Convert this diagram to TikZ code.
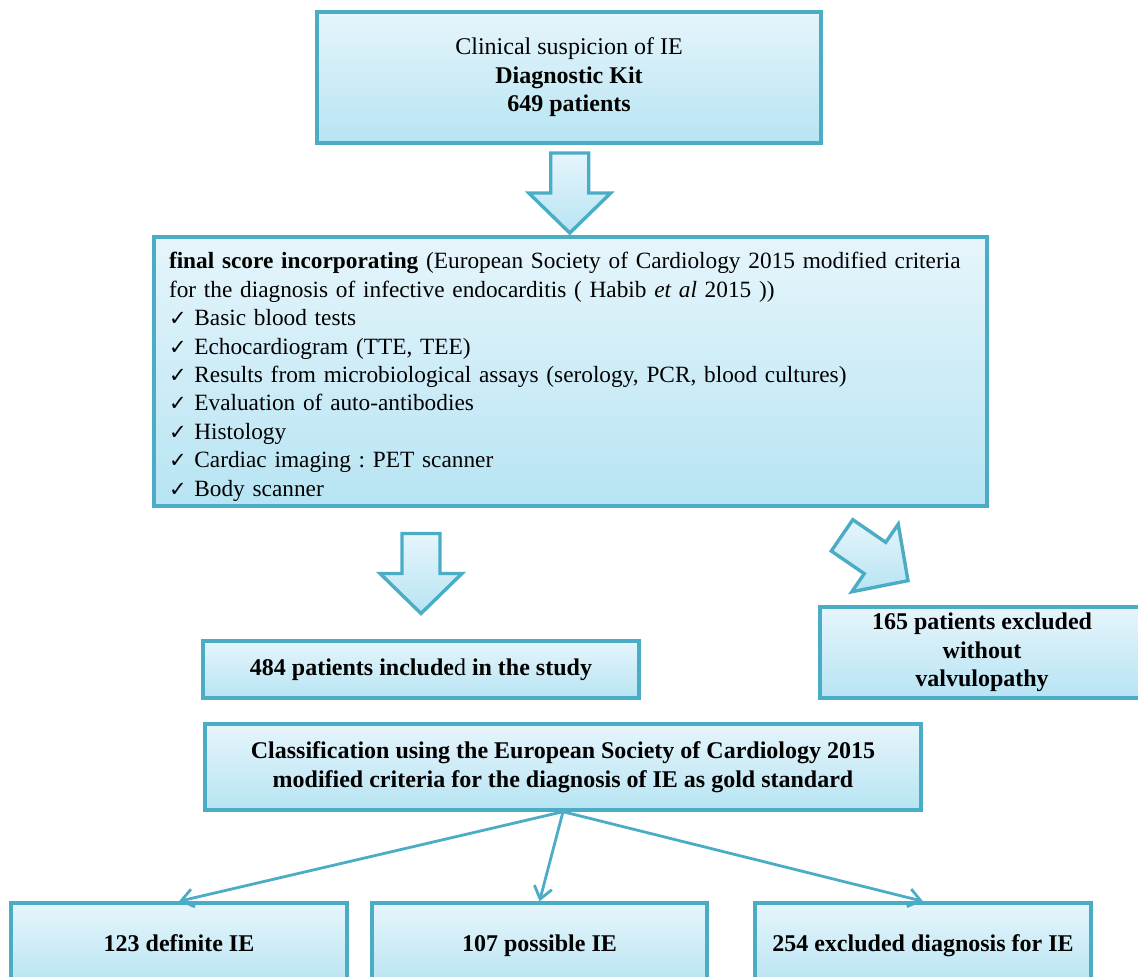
\documentclass[tikz,border=0pt]{standalone}
\usepackage{fontspec}
\setmainfont{Liberation Serif}
\newfontfamily\symfont{DejaVu Sans}
\usetikzlibrary{arrows.meta,positioning,calc}
\definecolor{boxline}{RGB}{75,172,198}
\definecolor{boxtop}{RGB}{230,245,251}
\definecolor{boxbot}{RGB}{183,228,243}
\newcommand{\ckmark}{{\symfont\fontsize{10.5}{12}\selectfont ✓}}
\tikzset{block/.style={draw=boxline,line width=1.7pt,top color=boxtop,bottom color=boxbot,align=center,inner sep=0pt,font=\fontsize{12}{14.2}\selectfont},boldblock/.style={block,font=\fontsize{12}{14.2}\selectfont\bfseries},outcome/.style={boldblock,minimum width=168pt,minimum height=42pt,text height=8.5pt,text depth=2.5pt},edge/.style={-{Straight Barb[length=6pt,width=9pt]},line width=1.4pt,draw=boxline},fatarrow/.pic={\draw[draw=boxline,line width=1.7pt,top color=boxtop,bottom color=boxbot,line join=miter] (-19,-40)--(-19,0)--(-41,0)--(0,40)--(41,0)--(19,0)--(19,-40)--cycle;}}
\begin{document}
\begin{tikzpicture}[x=0.5pt,y=-0.5pt]
\useasboundingbox (0,0) rectangle (1138,977);
\node[block,minimum width=252pt,minimum height=65.5pt] (suspicion) at (569,77.5) {Clinical suspicion of IE\\\textbf{Diagnostic Kit}\\\textbf{649 patients}};
\node[block,align=left,text width=401.5pt,inner xsep=7.5pt,minimum height=134.5pt,font=\fontsize{11.65}{14.2}\selectfont\frenchspacing] (score) at (570.5,371.5) {\rule{0pt}{13.5pt}\textbf{final score incorporating} (European Society of Cardiology 2015 modified criteria\\for the diagnosis of infective endocarditis ( Habib \textit{et al} 2015 ))\\\ckmark\ Basic blood tests\\\ckmark\ Echocardiogram (TTE, TEE)\\\ckmark\ Results from microbiological assays (serology, PCR, blood cultures)\\\ckmark\ Evaluation of auto-antibodies\\\ckmark\ Histology\\\ckmark\ Cardiac imaging : PET scanner\\\ckmark\ Body scanner};
\node[block,minimum width=218pt,minimum height=28.5pt] (included) at (421,669.5) {\textbf{484 patients include}d \textbf{in the study}};
\node[boldblock,minimum width=162pt,minimum height=45.5pt] (excluded) at (982,652.5) {165 patients excluded\\without\\valvulopathy};
\node[boldblock,minimum width=358pt,minimum height=43pt] (classif) at (563,767) {Classification using the European Society of Cardiology 2015\\modified criteria for the diagnosis of IE as gold standard};
\node[outcome] (definite) at (179,945) {123 definite IE};
\node[outcome,minimum width=167.5pt] (possible) at (539.5,945) {107 possible IE};
\node[outcome] (ruledout) at (923,945) {254 excluded diagnosis for IE};
% block arrows
\pic at ($(suspicion.south)!0.5!(score.north)+(0,3)$) {fatarrow};
\pic at ($(score.south -| included.north)!0.5!(included.north)$) {fatarrow};
\pic[rotate=55.5] at (875,558) {fatarrow};
% classification
\draw[edge] (classif.south) -- (definite.north);
\draw[edge] (classif.south) -- (possible.north);
\draw[edge] (classif.south) -- (ruledout.north);
\end{tikzpicture}
\end{document}
